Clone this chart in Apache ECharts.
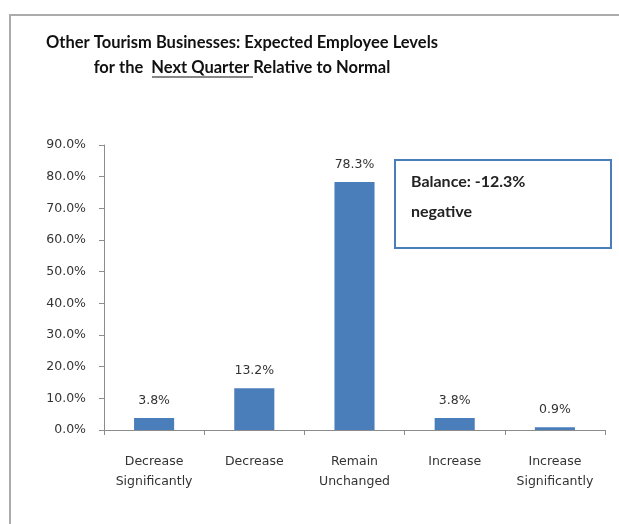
<!DOCTYPE html>
<html>
<head>
<meta charset="utf-8">
<script src="https://cdn.jsdelivr.net/npm/echarts@6/dist/echarts.min.js"></script>
<style>
  html, body { margin: 0; padding: 0; background: #fff; }
  #chart { width: 619px; height: 524px; }
</style>
</head>
<body>
<div id="chart"></div>
<script>
// Survey responses: expected employee levels next quarter
const categories = ['Decrease\nSignificantly', 'Decrease', 'Remain\nUnchanged', 'Increase', 'Increase\nSignificantly'];
const shares = [3.8, 13.2, 78.3, 3.8, 0.9];
const yTicks = { min: 0, max: 90, step: 10 };
const balanceText = ['Balance: -12.3%', 'negative'];

const chart = echarts.init(document.getElementById('chart'), null, { renderer: 'canvas' });

const titleFont = 'Lato, "Open Sans", sans-serif';
const axisFont = '"DejaVu Sans", Verdana, sans-serif';

chart.setOption({
  animation: false,
  backgroundColor: '#ffffff',
  grid: { left: 104, right: 14, top: 145, bottom: 94 },
  xAxis: {
    type: 'category',
    data: categories,
    axisLine: { lineStyle: { color: '#8c8c8c', width: 1 } },
    axisTick: { show: true, alignWithLabel: false, length: 5, lineStyle: { color: '#8c8c8c' } },
    axisLabel: {
      color: '#333', fontFamily: axisFont, fontSize: 12.5, lineHeight: 20,
      margin: 22, interval: 0
    }
  },
  yAxis: {
    type: 'value',
    min: yTicks.min, max: yTicks.max, interval: yTicks.step,
    splitLine: { show: false },
    axisLine: { show: true, lineStyle: { color: '#8c8c8c', width: 1 } },
    axisTick: { show: true, length: 5, lineStyle: { color: '#8c8c8c' } },
    axisLabel: {
      color: '#333', fontFamily: axisFont, fontSize: 12.5, margin: 18,
      formatter: v => v.toFixed(1) + '%'
    }
  },
  series: [{
    type: 'bar',
    data: shares,
    barWidth: '40%',
    itemStyle: { color: '#4a7ebb' },
    label: {
      show: true, position: 'top', distance: 11,
      color: '#333', fontFamily: axisFont, fontSize: 12.5,
      formatter: p => p.value.toFixed(1) + '%'
    }
  }],
  graphic: [
    // outer chart frame
    { type: 'rect', shape: { x: 10, y: 15, width: 640, height: 560 },
      style: { fill: 'none', stroke: '#ababab', lineWidth: 2 }, silent: true, z: -1 },
    // title, two centred lines
    { type: 'text', x: 242, y: 43,
      style: { text: 'Other Tourism Businesses: Expected Employee Levels',
               font: 'bold 16.5px ' + titleFont, fill: '#111',
               textAlign: 'center', textVerticalAlign: 'middle' } },
    { type: 'text', x: 242, y: 68,
      style: {
        text: 'for the  Next Quarter Relative to Normal',
        font: 'bold 16.5px ' + titleFont, fill: '#111',
        textAlign: 'center', textVerticalAlign: 'middle'
      }
    },
    // underline under "Next Quarter "
    { type: 'line', shape: { x1: 152, y1: 77, x2: 253, y2: 77 },
      style: { stroke: '#111', lineWidth: 1.2 } },
    // balance annotation box
    { type: 'rect', shape: { x: 395, y: 160, width: 216, height: 88 },
      style: { fill: '#fff', stroke: '#4a7ebb', lineWidth: 2 }, z: 10 },
    { type: 'text', x: 411, y: 182, z: 11,
      style: { text: balanceText[0], font: 'bold 16px ' + titleFont,
               fill: '#222', textVerticalAlign: 'middle' } },
    { type: 'text', x: 411, y: 212, z: 11,
      style: { text: balanceText[1], font: 'bold 16px ' + titleFont,
               fill: '#222', textVerticalAlign: 'middle' } }
  ]
});
</script>
</body>
</html>
